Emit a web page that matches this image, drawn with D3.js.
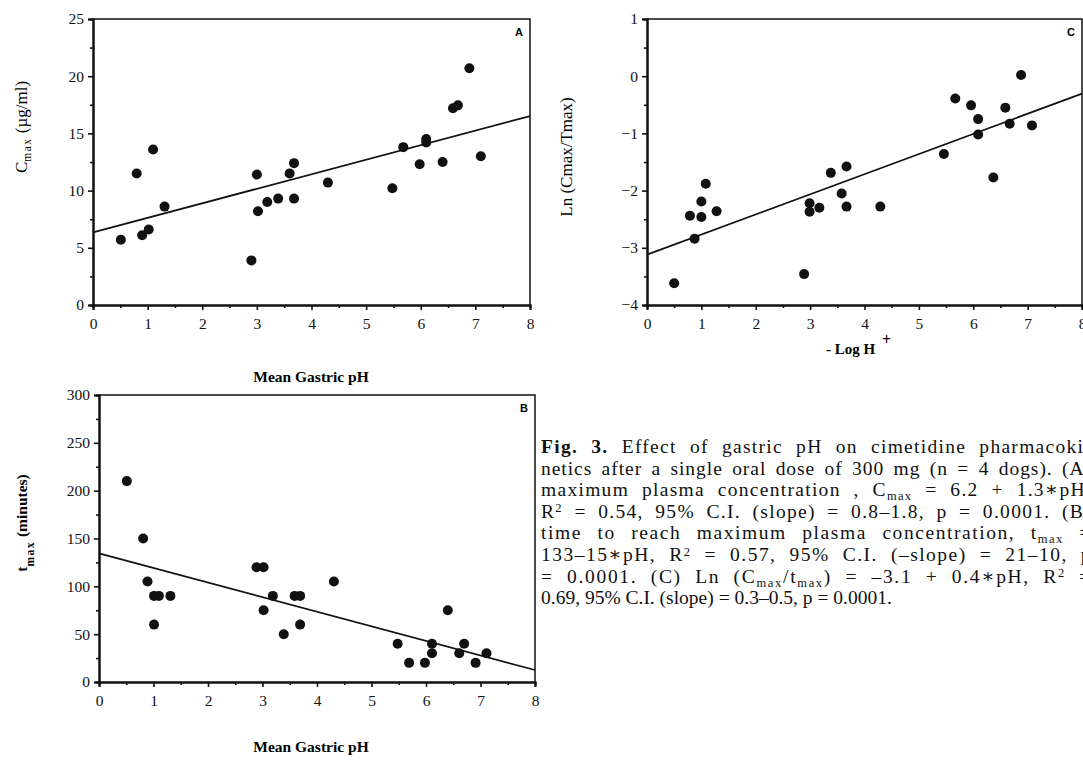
<!DOCTYPE html>
<html>
<head>
<meta charset="utf-8">
<script src="https://cdn.jsdelivr.net/npm/d3@7"></script>
<style>
  body { margin: 0; background: #fff; }
  svg { display: block; }
  .tick text { font-family: "Liberation Serif", "DejaVu Serif", serif; font-size: 15.5px; fill: #111; }
  .domain, .tick line { stroke: #111; }
</style>
</head>
<body>
<div class="container"></div>
<script>
// mean gastric pH for each dog/visit, per panel
const phA = [0.51, 0.8, 0.9, 1.02, 1.1, 1.31, 2.9, 3.0, 3.02, 3.19, 3.39, 3.6, 3.68, 3.68, 4.3, 5.48, 5.68, 5.98, 6.1, 6.1, 6.4, 6.59, 6.68, 6.89, 7.1];
const cmax = [5.7, 11.5, 6.1, 6.6, 13.6, 8.6, 3.9, 11.4, 8.2, 9.0, 9.3, 11.5, 12.4, 9.3, 10.7, 10.2, 13.8, 12.3, 14.5, 14.2, 12.5, 17.2, 17.45, 20.7, 13.0];

const phB = [0.51, 0.81, 0.89, 1.01, 1.1, 1.01, 1.31, 2.89, 3.02, 3.02, 3.19, 3.39, 3.59, 3.69, 3.69, 4.31, 5.48, 5.69, 5.98, 6.11, 6.11, 6.4, 6.61, 6.7, 6.91, 7.11];
const tmax = [210, 150, 105, 90, 90, 60, 90, 120, 120, 75, 90, 50, 90, 90, 60, 105, 40, 20, 20, 40, 30, 75, 30, 40, 20, 30];

const phC = [0.5, 0.79, 0.875, 1.0, 1.0, 1.08, 1.28, 2.89, 2.99, 2.99, 3.17, 3.38, 3.58, 3.67, 3.67, 4.29, 5.46, 5.67, 5.96, 6.09, 6.09, 6.37, 6.59, 6.67, 6.88, 7.08];
const lnRatio = [-3.62, -2.44, -2.84, -2.19, -2.46, -1.88, -2.36, -3.46, -2.22, -2.37, -2.30, -1.69, -2.05, -1.58, -2.28, -2.28, -1.36, -0.39, -0.51, -0.75, -1.02, -1.77, -0.55, -0.83, 0.02, -0.86];

// regression lines [intercept, slope]
const fitA = [6.35, 1.27];
const fitB = [134.5, -15.25];
const fitC = [-3.12, 0.352];

const xTicks = [0, 1, 2, 3, 4, 5, 6, 7, 8];
const xMinor = [0.5, 1.5, 2.5, 3.5, 4.5, 5.5, 6.5, 7.5];

const width = 1083;
const height = 760;
const serif = '"Liberation Serif", "DejaVu Serif", serif';

const svg = d3.select('.container').append('svg').attr('width', width).attr('height', height);

const drawPanel = p => {
  const xScale = d3.scaleLinear().domain([0, 8]).range(p.xRange);
  const yScale = d3.scaleLinear().domain(p.yDomain).range(p.yRange);
  const g = svg.append('g').attr('class', 'panel');

  // frame top and right
  g.append('path')
    .attr('d', `M${p.xRange[0]},${p.yRange[1]}H${p.xRange[1]}V${p.yRange[0]}`)
    .attr('fill', 'none')
    .attr('stroke', '#111')
    .attr('stroke-width', 1.5);

  const bottom = g.append('g').attr('transform', `translate(0,${p.yRange[0]})`);
  d3.axisBottom(xScale).tickValues(xMinor).tickSize(3).tickFormat('')(bottom.append('g'));
  d3.axisBottom(xScale).tickValues(xTicks).tickSize(5).tickPadding(8).tickFormat(d3.format('d'))(bottom.append('g'));

  const left = g.append('g').attr('transform', `translate(${p.xRange[0]},0)`);
  d3.axisLeft(yScale).tickValues(p.yMinor).tickSize(3).tickFormat('')(left.append('g'));
  d3.axisLeft(yScale).tickValues(p.yTicks).tickSize(5).tickPadding(4).tickFormat(d3.format('d'))(left.append('g'));

  g.selectAll('.domain').attr('stroke-width', 2);
  g.selectAll('.tick line').attr('stroke-width', 1.6);

  g.append('line')
    .attr('x1', xScale(0))
    .attr('y1', yScale(p.fit[0]))
    .attr('x2', xScale(8))
    .attr('y2', yScale(p.fit[0] + p.fit[1] * 8))
    .attr('stroke', '#111')
    .attr('stroke-width', 1.7);

  g.selectAll('circle')
    .data(p.xs)
    .enter()
    .append('circle')
    .attr('cx', d => xScale(d))
    .attr('cy', (d, i) => yScale(p.ys[i]))
    .attr('r', 5)
    .attr('fill', '#111');

  g.append('text')
    .text(p.letter)
    .attr('x', p.xRange[1] - 7)
    .attr('y', p.yRange[1] + 17)
    .attr('text-anchor', 'end')
    .attr('font-family', 'Liberation Sans, Arial, sans-serif')
    .attr('font-weight', 'bold')
    .attr('font-size', 11);
};

drawPanel({
  letter: 'A', xs: phA, ys: cmax, fit: fitA,
  xRange: [93, 530], yRange: [305, 19], yDomain: [0, 25],
  yTicks: [0, 5, 10, 15, 20, 25], yMinor: [2.5, 7.5, 12.5, 17.5, 22.5]
});
drawPanel({
  letter: 'C', xs: phC, ys: lnRatio, fit: fitC,
  xRange: [647, 1082], yRange: [305, 19], yDomain: [-4, 1],
  yTicks: [-4, -3, -2, -1, 0, 1], yMinor: [-3.5, -2.5, -1.5, -0.5, 0.5]
});
drawPanel({
  letter: 'B', xs: phB, ys: tmax, fit: fitB,
  xRange: [99, 535], yRange: [682, 395], yDomain: [0, 300],
  yTicks: [0, 50, 100, 150, 200, 250, 300], yMinor: [25, 75, 125, 175, 225, 275]
});

// axis titles
const titleA = svg.append('text')
  .attr('transform', 'translate(27,127) rotate(-90)')
  .attr('text-anchor', 'middle')
  .attr('font-family', serif)
  .attr('font-size', 17);
titleA.append('tspan').text('C');
titleA.append('tspan').text('max').attr('font-size', 11.5).attr('letter-spacing', 1.5).attr('dy', 4);
titleA.append('tspan').text('  (µg/ml)').attr('dy', -4);

const titleB = svg.append('text')
  .attr('transform', 'translate(27,523) rotate(-90)')
  .attr('text-anchor', 'middle')
  .attr('font-family', serif)
  .attr('font-weight', 'bold')
  .attr('font-size', 15.5);
titleB.append('tspan').text('t');
titleB.append('tspan').text('max').attr('font-size', 11.5).attr('letter-spacing', 1.5).attr('dy', 7);
titleB.append('tspan').text('    (minutes)').attr('dy', -7);

svg.append('text')
  .text('Ln (Cmax/Tmax)')
  .attr('transform', 'translate(572,157) rotate(-90)')
  .attr('text-anchor', 'middle')
  .attr('font-family', serif)
  .attr('font-size', 17);

[[311, 382], [311, 752]].forEach(([x, y]) => {
  svg.append('text')
    .text('Mean Gastric pH')
    .attr('x', x)
    .attr('y', y)
    .attr('text-anchor', 'middle')
    .attr('font-family', serif)
    .attr('font-weight', 'bold')
    .attr('font-size', 15.5);
});

const logH = svg.append('text')
  .attr('x', 826)
  .attr('y', 354)
  .attr('font-family', serif)
  .attr('font-weight', 'bold')
  .attr('font-size', 15);
logH.append('tspan').text('- Log H ');
logH.append('tspan').text('+').attr('dy', -9).attr('dx', 3).attr('font-size', 16);

// caption, one array entry per printed line; segments: [text, style]
const captionLines = [
  [['Fig. 3.', 'b'], [' Effect of gastric pH on cimetidine pharmacoki-', '']],
  [['netics after a single oral dose of 300 mg (n = 4 dogs). (A)', '']],
  [['maximum plasma concentration , C', ''], ['max', 'sub'], [' = 6.2 + 1.3∗pH,', '']],
  [['R', ''], ['2', 'sup'], [' = 0.54, 95% C.I. (slope) = 0.8–1.8, p = 0.0001. (B)', '']],
  [['time to reach maximum plasma concentration, t', ''], ['max', 'sub'], [' =', '']],
  [['133–15∗pH, R', ''], ['2', 'sup'], [' = 0.57, 95% C.I. (–slope) = 21–10, p', '']],
  [['= 0.0001. (C) Ln (C', ''], ['max', 'sub'], ['/t', ''], ['max', 'sub'], [') = –3.1 + 0.4∗pH, R', ''], ['2', 'sup'], [' =', '']],
  [['0.69, 95% C.I. (slope) = 0.3–0.5, p = 0.0001.', '']]
];

const captionLeft = 541;
const captionRight = 1092; // justified column runs past the picture edge
const caption = svg.append('g').attr('font-family', serif).attr('font-size', 19.5).attr('fill', '#111');
captionLines.forEach((line, i) => {
  const t = caption.append('text').attr('x', captionLeft).attr('y', 453 + i * 21.6).attr('xml:space', 'preserve');
  let shift = 0;
  line.forEach(([str, style]) => {
    const s = t.append('tspan').text(str);
    if (style === 'b') s.attr('font-weight', 'bold');
    if (style === 'sub') { s.attr('font-size', 12.5).attr('dy', 4 - shift); shift = 4; }
    else if (style === 'sup') { s.attr('font-size', 12.5).attr('dy', -5.5 - shift); shift = -5.5; }
    else if (shift !== 0) { s.attr('dy', -shift); shift = 0; }
  });
  if (i < captionLines.length - 1) {
    // justify: share the extra width between letters and word gaps
    const full = line.map(d => d[0]).join('');
    const natural = t.node().getComputedTextLength();
    const extra = Math.max(0, captionRight - captionLeft - natural);
    const spaces = full.split(' ').length - 1;
    t.attr('letter-spacing', (extra * 0.55) / full.length)
      .attr('word-spacing', (extra * 0.45) / spaces);
  }
});
</script>
</body>
</html>
